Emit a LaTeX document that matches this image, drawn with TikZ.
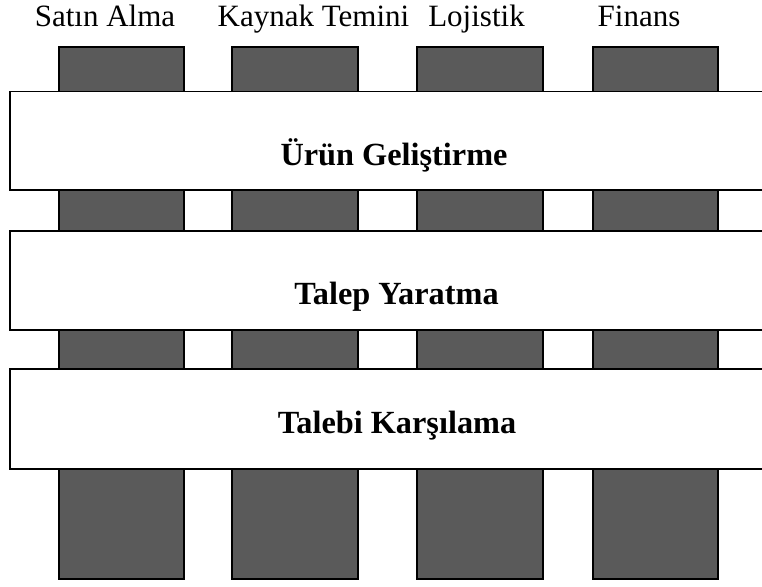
\documentclass[tikz,border=0pt]{standalone}
\usepackage{fontspec}
\setmainfont{Liberation Serif}
\definecolor{colgray}{HTML}{5A5A5A}
\begin{document}
\begin{tikzpicture}[x=1pt,y=-1pt,
  colbox/.style={draw=black,line width=1.1pt,fill=colgray},
  band/.style={draw=black,line width=1.1pt,fill=white},
  toplabel/.style={anchor=base,inner sep=0pt,font=\fontsize{31}{35}\selectfont},
  bandlabel/.style={anchor=base,inner sep=0pt,font=\fontsize{32.3}{36}\selectfont\bfseries}]
\useasboundingbox[fill=white] (0,0) rectangle (762,586);
% columns
\draw[colbox] (59,47) rectangle (184,579) coordinate (c1);
\draw[colbox] (232,47) rectangle (358,579) coordinate (c2);
\draw[colbox] (417,47) rectangle (543,579) coordinate (c3);
\draw[colbox] (593,47) rectangle (718,579) coordinate (c4);
% bands
\draw[band] (10,91.5) rectangle (800,190) coordinate (b1);
\draw[band] (10,231) rectangle (800,330) coordinate (b2);
\draw[band] (10,369) rectangle (800,469) coordinate (b3);
% labels
\node[toplabel] (l1) at (105,27) {Satın Alma};
\node[toplabel] (l2) at (313.5,27) {Kaynak Temini};
\node[toplabel] (l3) at (476.5,27) {Lojistik};
\node[toplabel] (l4) at (639,27) {Finans};
\node[bandlabel] (t1) at (394,165) {Ürün Geliştirme};
\node[bandlabel] (t2) at (396.5,304) {Talep Yaratma};
\node[bandlabel] (t3) at (397,433) {Talebi Karşılama};
\end{tikzpicture}
\end{document}
